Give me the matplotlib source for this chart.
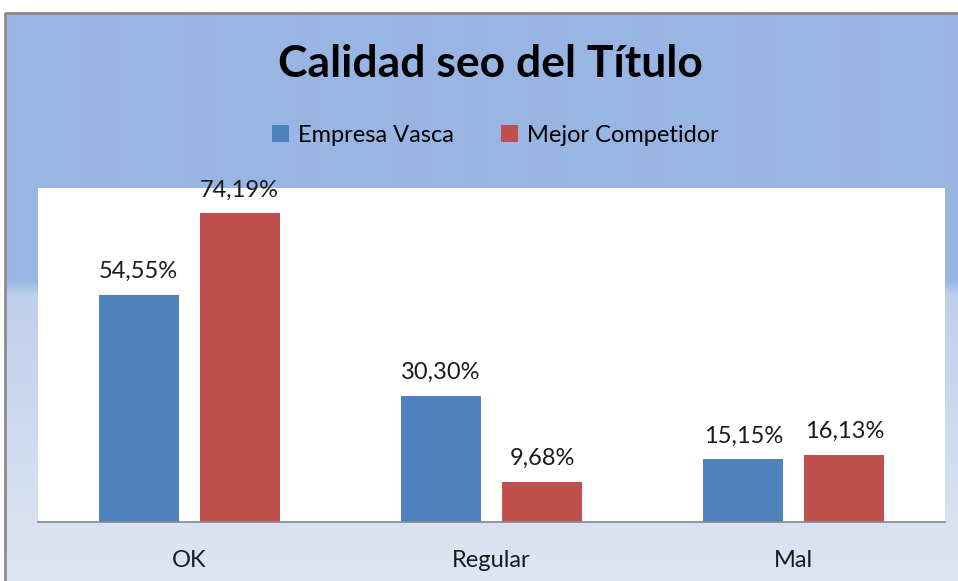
import numpy as np
import matplotlib.pyplot as plt
from matplotlib.colors import to_rgb

categories = ['OK', 'Regular', 'Mal']
empresa = [54.55, 30.30, 15.15]
competidor = [74.19, 9.68, 16.13]
series_names = ['Empresa Vasca', 'Mejor Competidor']

plt.rcParams['font.family'] = ['Lato', 'DejaVu Sans']

W, H = 958, 581
fig = plt.figure(figsize=(W / 100, H / 100), dpi=100)

# background gradient panel (blue on top, lighter toward bottom)
bg = fig.add_axes([0, 0, 1, 1], zorder=0)
bg.set_xlim(0, W)
bg.set_ylim(H, 0)
bg.axis('off')
top = np.array(to_rgb('#99b5e3'))
mid = np.array(to_rgb('#bfd0ec'))
bot = np.array(to_rgb('#dee6f3'))
rows = np.arange(12, H)
grad = np.zeros((len(rows), 1, 3))
for i, r in enumerate(rows):
    if r < 280:
        c = top
    elif r < 295:
        t = (r - 280) / 15
        c = top + (mid - top) * t
    else:
        t = (r - 295) / (H - 295)
        c = mid + (bot - mid) * t
    grad[i, 0] = c
bg.imshow(grad, extent=[5, W + 2, H, 12], aspect='auto', interpolation='bilinear')
bg.plot([5.5, 5.5, W + 2], [H, 12.5, 12.5], color='#8c8c8c', lw=2)
bg.set_xlim(0, W)

# plot area
x0, x1, y0, y1 = 38, 945, 188, 522
ax = fig.add_axes([x0 / W, 1 - y1 / H, (x1 - x0) / W, (y1 - y0) / H], zorder=1)
ax.set_facecolor('white')

x = np.arange(len(categories))
bw = 0.265
off = 0.167
b1 = ax.bar(x - off, empresa, bw, color='#4f81bd', label=series_names[0])
b2 = ax.bar(x + off, competidor, bw, color='#c0504d', label=series_names[1])

for bars, vals in ((b1, empresa), (b2, competidor)):
    for b, v in zip(bars, vals):
        ax.annotate(f'{v:.2f}%'.replace('.', ','),
                    (b.get_x() + b.get_width() / 2, v),
                    xytext=(0, 9), textcoords='offset points',
                    ha='center', va='bottom', fontsize=17, color='#1a1a1a',
                    annotation_clip=False)

ax.set_xlim(-0.5, 2.5)
ax.set_ylim(0, 80.2)
ax.set_yticks([])
ax.set_xticks(x)
ax.set_xticklabels(categories, fontsize=17, color='#1a1a1a')
ax.tick_params(axis='x', length=0, pad=20)
for s in ('top', 'right', 'left'):
    ax.spines[s].set_visible(False)
ax.spines['bottom'].set_color('#868686')
ax.spines['bottom'].set_linewidth(1.2)

fig.text(490 / W, 1 - 64 / H, 'Calidad seo del Título', ha='center', va='center',
         fontsize=32, fontweight='bold', color='black')

fig.legend(handles=[b1, b2], loc='center', bbox_to_anchor=(495 / W, 1 - 135 / H),
           ncol=2, frameon=False, fontsize=17, handlelength=0.75, handleheight=0.75,
           handletextpad=0.35, columnspacing=2.0)

fig.savefig('out.png', dpi=100)
